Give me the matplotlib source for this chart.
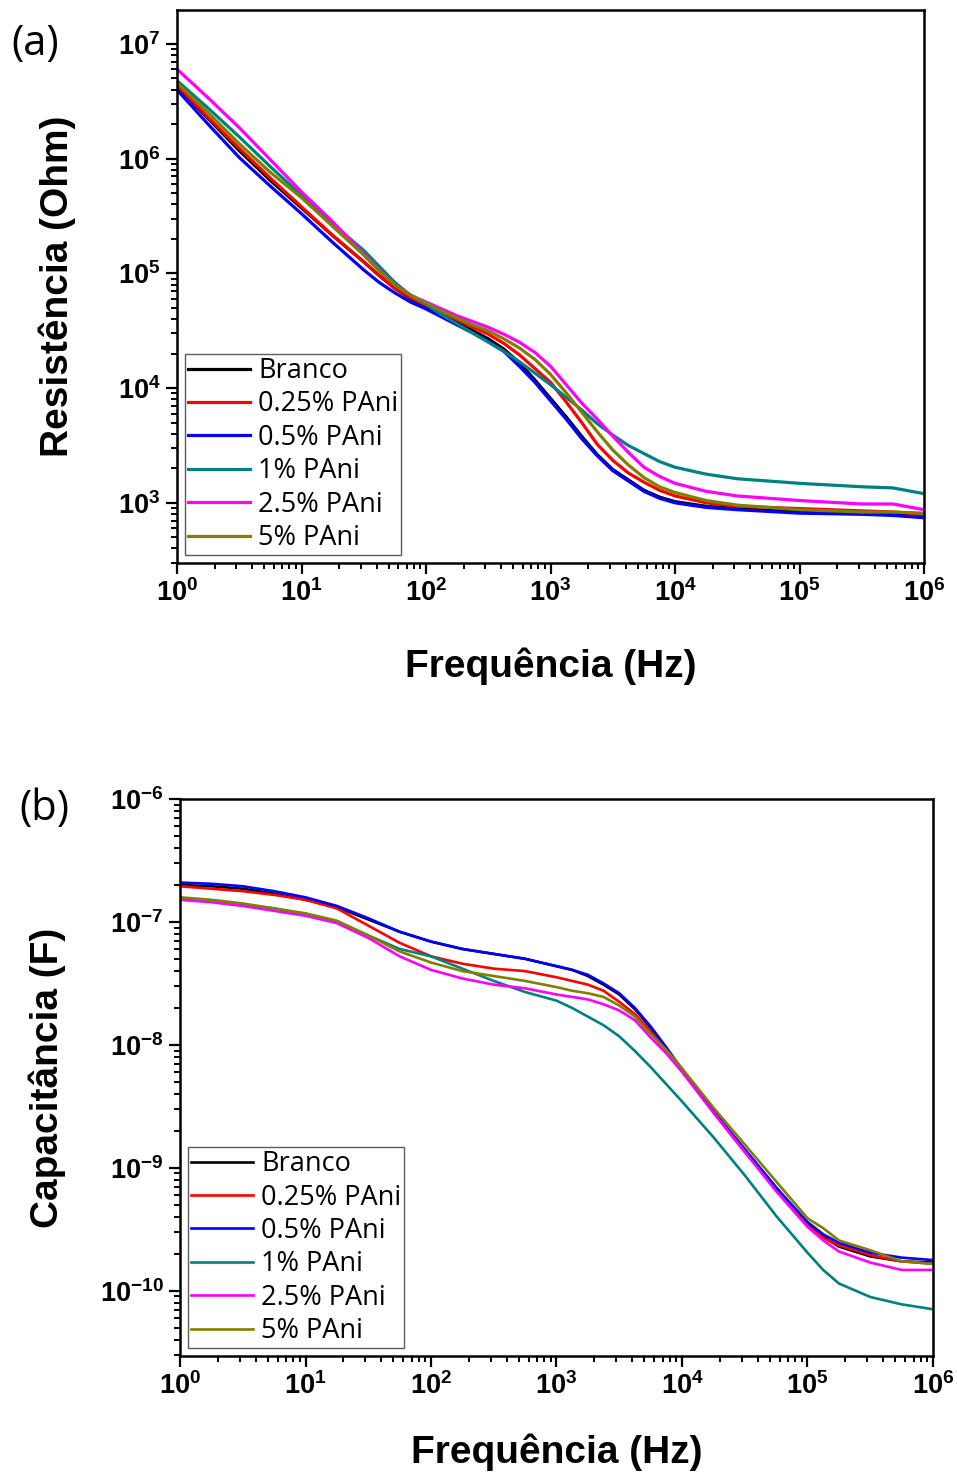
"""Resistência e capacitância vs frequência para revestimentos com PAni."""

import matplotlib
matplotlib.use("Agg")
import matplotlib.pyplot as plt
import matplotlib.ticker as mticker
import numpy as np

plt.rcParams["mathtext.fontset"] = "custom"
plt.rcParams["mathtext.rm"] = "Liberation Sans:bold"
plt.rcParams["mathtext.bf"] = "Liberation Sans:bold"
plt.rcParams["font.family"] = ["Liberation Sans", "DejaVu Sans"]

# ── dados (log10) ────────────────────────────────────────────────────────────

SERIES = ["Branco", "0.25% PAni", "0.5% PAni", "1% PAni", "2.5% PAni", "5% PAni"]
COLORS = ["#000000", "#ff0000", "#0000ff", "#008080", "#ff00ff", "#808000"]

# (a) resistência
log_f_a = [0, 0.25, 0.5, 0.75, 1.0, 1.25, 1.5, 1.625, 1.75, 1.875, 2.0, 2.125, 2.25,
           2.375, 2.5, 2.625, 2.75, 2.875, 3.0, 3.125, 3.25, 3.375, 3.5, 3.625, 3.75,
           3.875, 4.0, 4.25, 4.5, 5.0, 5.5, 5.75, 6.0]
log_R_branco = [6.63, 6.35, 6.07, 5.81, 5.57, 5.33, 5.10, 4.98, 4.87, 4.78, 4.71, 4.64, 4.57,
                4.50, 4.43, 4.34, 4.22, 4.07, 3.91, 3.75, 3.58, 3.42, 3.29, 3.20, 3.11,
                3.05, 3.01, 2.97, 2.95, 2.92, 2.91, 2.91, 2.90]
log_R_025 = [6.64, 6.36, 6.09, 5.83, 5.58, 5.33, 5.10, 4.98, 4.87, 4.79, 4.72, 4.66, 4.60,
             4.53, 4.47, 4.39, 4.29, 4.17, 4.05, 3.88, 3.70, 3.51, 3.37, 3.26, 3.18,
             3.11, 3.06, 3.00, 2.97, 2.95, 2.93, 2.92, 2.90]
log_R_05 = [6.60, 6.30, 6.01, 5.76, 5.52, 5.27, 5.03, 4.92, 4.83, 4.75, 4.69, 4.62, 4.55,
            4.48, 4.41, 4.32, 4.19, 4.05, 3.89, 3.73, 3.56, 3.41, 3.28, 3.19, 3.10,
            3.04, 3.00, 2.96, 2.94, 2.91, 2.90, 2.89, 2.87]
log_R_1 = [6.68, 6.44, 6.19, 5.93, 5.68, 5.43, 5.20, 5.06, 4.92, 4.81, 4.73, 4.64, 4.56,
           4.48, 4.40, 4.32, 4.23, 4.13, 4.03, 3.92, 3.81, 3.69, 3.59, 3.50, 3.43,
           3.36, 3.31, 3.25, 3.21, 3.17, 3.14, 3.13, 3.08]
log_R_25 = [6.78, 6.53, 6.27, 5.99, 5.71, 5.45, 5.17, 5.03, 4.90, 4.81, 4.75, 4.69, 4.63,
            4.58, 4.53, 4.47, 4.40, 4.31, 4.19, 4.03, 3.87, 3.73, 3.58, 3.44, 3.31,
            3.23, 3.17, 3.10, 3.06, 3.02, 2.99, 2.99, 2.94]
log_R_5 = [6.66, 6.40, 6.13, 5.88, 5.66, 5.41, 5.16, 5.02, 4.90, 4.81, 4.74, 4.67, 4.61,
           4.55, 4.50, 4.43, 4.35, 4.25, 4.12, 3.96, 3.79, 3.62, 3.46, 3.33, 3.22,
           3.14, 3.09, 3.02, 2.98, 2.94, 2.92, 2.92, 2.91]

# (b) capacitância
log_f_b = [0, 0.25, 0.5, 0.75, 1.0, 1.25, 1.5, 1.75, 2.0, 2.25, 2.5, 2.75, 3.0, 3.125,
           3.25, 3.375, 3.5, 3.625, 3.75, 3.875, 4.0, 4.25, 4.5, 4.75, 5.0, 5.125, 5.25,
           5.5, 5.75, 6.0]
log_C_branco = [-6.70, -6.71, -6.73, -6.77, -6.82, -6.88, -6.98, -7.08, -7.16, -7.22,
                -7.26, -7.30, -7.36, -7.39, -7.44, -7.51, -7.59, -7.71, -7.86, -8.03,
                -8.20, -8.54, -8.85, -9.16, -9.46, -9.56, -9.64, -9.72, -9.76, -9.77]
log_C_025 = [-6.71, -6.73, -6.75, -6.78, -6.82, -6.89, -7.03, -7.17, -7.28, -7.34,
             -7.38, -7.40, -7.45, -7.48, -7.51, -7.56, -7.65, -7.75, -7.89, -8.04,
             -8.21, -8.55, -8.87, -9.17, -9.47, -9.57, -9.63, -9.71, -9.76, -9.78]
log_C_05 = [-6.68, -6.69, -6.71, -6.75, -6.80, -6.87, -6.97, -7.08, -7.16, -7.22,
            -7.26, -7.30, -7.36, -7.39, -7.43, -7.50, -7.58, -7.70, -7.85, -8.02,
            -8.20, -8.54, -8.85, -9.16, -9.44, -9.54, -9.61, -9.69, -9.73, -9.75]
log_C_1 = [-6.81, -6.83, -6.86, -6.89, -6.94, -7.00, -7.11, -7.22, -7.28, -7.38,
           -7.48, -7.57, -7.64, -7.70, -7.77, -7.84, -7.93, -8.05, -8.18, -8.32,
           -8.46, -8.75, -9.06, -9.39, -9.69, -9.83, -9.94, -10.05, -10.11, -10.15]
log_C_25 = [-6.82, -6.84, -6.87, -6.91, -6.95, -7.01, -7.13, -7.28, -7.39, -7.46,
            -7.51, -7.54, -7.59, -7.61, -7.63, -7.67, -7.72, -7.80, -7.94, -8.07,
            -8.22, -8.55, -8.87, -9.19, -9.48, -9.59, -9.68, -9.77, -9.83, -9.83]
log_C_5 = [-6.80, -6.82, -6.85, -6.89, -6.93, -6.99, -7.11, -7.24, -7.33, -7.40,
           -7.44, -7.48, -7.53, -7.56, -7.58, -7.61, -7.68, -7.77, -7.91, -8.04,
           -8.19, -8.51, -8.81, -9.11, -9.41, -9.49, -9.59, -9.67, -9.76, -9.78]

R_DATA = [log_R_branco, log_R_025, log_R_05, log_R_1, log_R_25, log_R_5]
C_DATA = [log_C_branco, log_C_025, log_C_05, log_C_1, log_C_25, log_C_5]


def pow10_label(v, pos):
    return r"$\mathbf{10^{%d}}$" % int(round(np.log10(v)))


def style_axes(ax):
    for sp in ax.spines.values():
        sp.set_linewidth(1.8)
    ax.set_xscale("log")
    ax.set_yscale("log")
    ax.xaxis.set_major_locator(mticker.LogLocator(base=10, numticks=20))
    ax.yaxis.set_major_locator(mticker.LogLocator(base=10, numticks=20))
    ax.xaxis.set_minor_locator(mticker.LogLocator(base=10, subs=np.arange(2, 10), numticks=20))
    ax.yaxis.set_minor_locator(mticker.LogLocator(base=10, subs=np.arange(2, 10), numticks=20))
    ax.xaxis.set_minor_formatter(mticker.NullFormatter())
    ax.yaxis.set_minor_formatter(mticker.NullFormatter())
    ax.xaxis.set_major_formatter(mticker.FuncFormatter(pow10_label))
    ax.yaxis.set_major_formatter(mticker.FuncFormatter(pow10_label))
    ax.tick_params(which="major", direction="out", length=8, width=1.6,
                   labelsize=19.5, pad=4, top=False, right=False)
    ax.tick_params(which="minor", direction="out", length=4.5, width=1.4,
                   top=False, right=False)


fig = plt.figure(figsize=(9.57, 14.76), dpi=100)
ax_a = fig.add_axes([0.185, 0.6186, 0.7806, 0.3747])
ax_b = fig.add_axes([0.1881, 0.0813, 0.7868, 0.3774])

for name, color, vals in zip(SERIES, COLORS, R_DATA):
    ax_a.plot(10 ** np.array(log_f_a), 10 ** np.array(vals), color=color, lw=2.3, label=name)
for name, color, vals in zip(SERIES, COLORS, C_DATA):
    ax_b.plot(10 ** np.array(log_f_b), 10 ** np.array(vals), color=color, lw=1.9, label=name)

for ax, pad in ((ax_a, 29), (ax_b, 24)):
    style_axes(ax)
    ax.set_xlim(1, 1e6)
    ax.set_xlabel("Frequência (Hz)", fontsize=28, fontweight="bold", labelpad=pad)
    leg = ax.legend(loc="lower left", prop={"family": "Open Sans", "size": 19.5},
                    frameon=True, fancybox=False, edgecolor="#333333",
                    handlelength=2.3, handletextpad=0.3, labelspacing=0.2,
                    borderpad=0.1, borderaxespad=0.3)
    leg.get_frame().set_linewidth(1.0)

ax_a.set_ylim(10 ** 2.476, 10 ** 7.297)
ax_b.set_ylim(10 ** -10.53, 1e-6)

ax_a.set_ylabel("Resistência (Ohm)", fontsize=28, fontweight="bold", labelpad=30)
ax_b.set_ylabel("Capacitância (F)", fontsize=28, fontweight="bold", labelpad=24)

fig.text(0.012, 0.970, "(a)", fontsize=30, family="Open Sans", va="center")
fig.text(0.020, 0.452, "(b)", fontsize=30, family="Open Sans", va="center")

fig.savefig("out.png", dpi=100)
